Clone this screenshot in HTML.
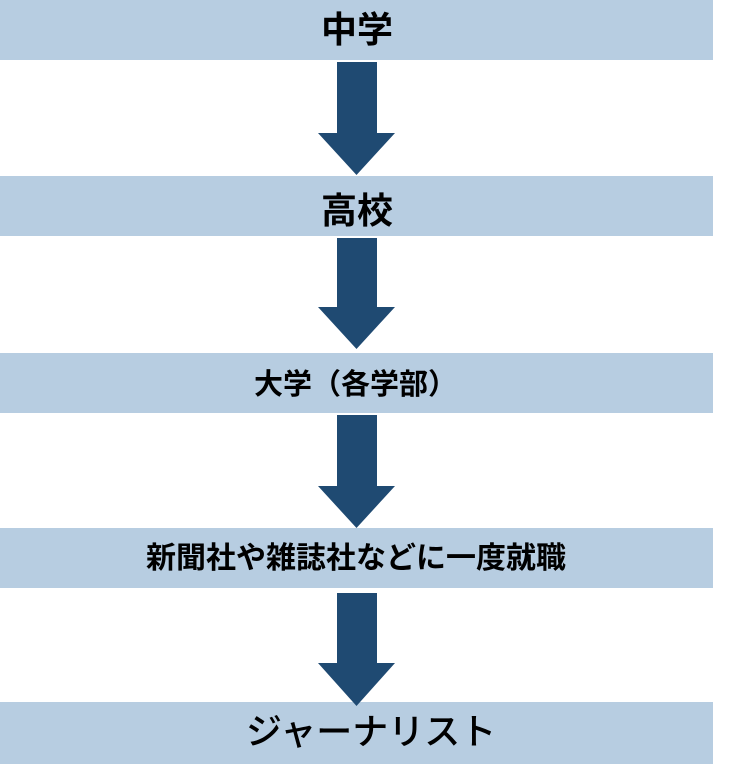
<!DOCTYPE html>
<html>
<head>
<meta charset="utf-8">
<style>
  html, body { margin: 0; padding: 0; background: #ffffff; }
  body { width: 736px; height: 764px; position: relative; overflow: hidden;
         font-family: "Liberation Sans", "Noto Sans CJK JP", sans-serif; color: #000; }
  .bar { position: absolute; left: 0; width: 713px; background: #b7cde1; }
  .t { position: absolute; white-space: nowrap; line-height: 1; font-weight: bold; }
  svg { position: absolute; left: 0; top: 0; }
</style>
</head>
<body>
  <div class="bar" style="top:0;height:60px;"></div>
  <div class="bar" style="top:176px;height:60px;"></div>
  <div class="bar" style="top:353px;height:60px;"></div>
  <div class="bar" style="top:528px;height:60px;"></div>
  <div class="bar" style="top:702px;height:62px;"></div>

  <svg width="736" height="764" viewBox="0 0 736 764">
    <g fill="#1f4a72">
      <polygon points="337,62 377,62 377,133 395,133 356.5,175 318,133 337,133"/>
      <polygon points="337,238 377,238 377,307 395,307 356.5,349 318,307 337,307"/>
      <polygon points="337,415 377,415 377,486 395,486 356.5,528 318,486 337,486"/>
      <polygon points="337,593 377,593 377,663 395,663 356.5,706 318,663 337,663"/>
    </g>
  </svg>

  <div class="t" style="left:321px;top:12px;font-size:36px;">中学</div>
  <div class="t" style="left:321px;top:193px;font-size:36px;">高校</div>
  <div class="t" style="left:254px;top:371px;font-size:29px;">大学（各学部）</div>
  <div class="t" style="left:146px;top:544px;font-size:30px;">新聞社や雑誌社などに一度就職</div>
  <div class="t" style="left:246px;top:714px;font-size:36px;font-weight:500;">ジャーナリスト</div>
</body>
</html>
